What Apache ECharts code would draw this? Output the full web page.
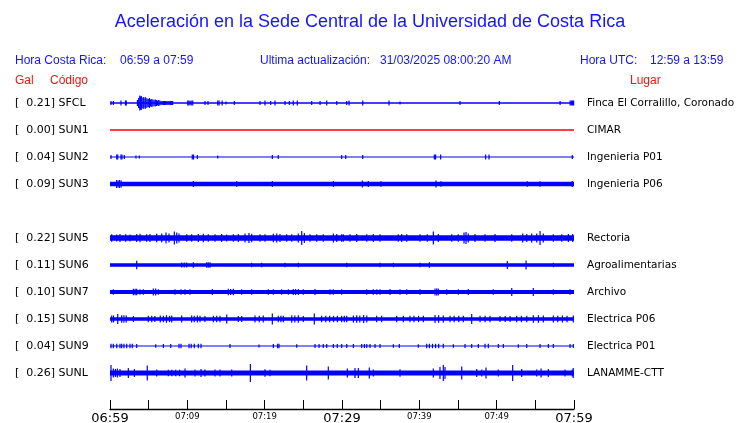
<!DOCTYPE html>
<html><head><meta charset="utf-8">
<script src="https://cdn.jsdelivr.net/npm/echarts@6/dist/echarts.min.js"></script>
<style>html,body{margin:0;padding:0;background:#fff}#c{width:740px;height:423px}</style>
</head><body><div id="c"></div>
<script>
// ---- header texts ----
const titleText = 'Aceleración en la Sede Central de la Universidad de Costa Rica';
const localLabel = 'Hora Costa Rica:';
const localRange = '06:59 a 07:59';
const updatedLabel = 'Ultima actualización:';
const updatedValue = '31/03/2025 08:00:20 AM';
const utcLabel = 'Hora UTC:';
const utcRange = '12:59 a 13:59';
const colGal = 'Gal', colCode = 'Código', colPlace = 'Lugar';

// ---- stations ----
const codes   = ['SFCL','SUN1','SUN2','SUN3','SUN4','SUN5','SUN6','SUN7','SUN8','SUN9','SUNL'];
const peakGal = [0.21, 0.00, 0.04, 0.09, null, 0.22, 0.11, 0.10, 0.15, 0.04, 0.26];
const places  = ['Finca El Corralillo, Coronado','CIMAR','Ingenieria P01','Ingenieria P06','','Rectoria','Agroalimentarias','Archivo','Electrica P06','Electrica P01','LANAMME-CTT'];
const tickLabels = ['06:59','07:09','07:19','07:29','07:39','07:49','07:59']; // every 10 min
// background noise half-amplitude (arbitrary units, 27 units = row spacing)
const baseNoise = [0.7, 0.75, 0.6, 2.2, null, 2.7, 1.8, 1.9, 1.8, 0.6, 2.5];

// spikes: [minute after 06:59, half-amplitude]
const spikesSFCL = [[0.13,2],[0.43,2],[1.42,2.5],[2.0,2.5],[2.1,2.5],
 [3.55,3],[3.7,5],[3.85,7.5],[3.95,6.5],[4.05,7],[4.15,5],[4.3,6],[4.4,4.5],[4.55,6],[4.65,5],[4.8,4.5],[4.95,4],[5.1,5],[5.25,3.5],[5.4,4],[5.55,3.5],[5.7,3],[5.85,3.5],[6.0,3],[6.15,2.5],[6.3,3],[6.45,2.5],[6.6,2],[6.75,2],[6.9,2],[7.05,2],[7.2,2],[7.35,2],[7.5,2],[7.65,2],[7.8,2],[7.95,2],[8.1,2],
 [10.05,2.5],[10.2,2.5],[10.35,2],[10.5,2.5],[10.7,2.5],[12.28,2],[12.67,2],[13.93,2.5],[14.1,2.5],[14.5,2.5],[15.0,1.5],[16.07,2],[19.4,2],[20.04,2.5],[20.78,2],[21.34,2.5],[22.63,2],[23.19,2],[23.7,2.5],[24.22,2.5],[26.08,2],[27.16,2],[28.02,2.5],[29.32,2],[30.61,2],[30.91,2.5],[32.68,2.5],[36.08,2.5],[37.5,1.5],[45.26,2],[50.34,2],[58.2,2],[59.5,2.5],[59.65,2.5],[59.8,2.5],[59.95,2.5]];
const spikesSUN1 = [];
const spikesSUN2 = [[0.13,2],[0.87,2.5],[1.0,2.5],[1.42,2.5],[1.55,2.5],[1.85,2],[3.36,1.5],[3.79,1.5],[10.64,2.5],[10.8,2.5],[11.29,2],[13.93,1.5],[20.99,2],[21.76,2],[29.96,2],[30.48,2],[32.68,2],[41.94,2.5],[42.1,2.5],[42.76,2.5],[48.58,2.5],[49.01,2.5],[59.78,2]];
const spikesSUN3 = [[0.87,4],[1.05,3.5],[1.25,4],[1.45,3.5],[10.77,3],[16.38,2.8],[20.99,3],[28.88,3],[32.63,3.5],[33.4,3],[35.04,2.8],[42.16,3.5],[42.8,2.8],[53.96,2.8],[55.61,2.8],[59.78,3]];
const spikesSUN4 = [];
const spikesSUN5 = [[0.22,3.8],[0.87,3.5],[1.29,4],[2.03,3.8],[2.59,3.5],[3.45,4],[3.88,4.2],[4.74,3.8],[5.17,4],[6.04,4.2],[6.69,4.5],[7.24,5.5],[7.63,4.5],[8.32,6.5],[8.63,5.5],[8.92,4.5],[9.92,3.8],[10.56,3.8],[11.42,4],[12.07,4.2],[12.71,3.8],[13.58,3.8],[14.44,4],[15.09,3.5],[15.95,3.8],[16.59,4],[17.46,4.5],[17.97,5],[18.32,4.2],[19.4,3.8],[20.04,3.8],[21.12,4.2],[21.56,4.5],[21.98,4],[22.85,3.8],[23.5,3.8],[24.35,4.5],[24.79,7],[25.13,5],[25.86,3.8],[26.73,3.8],[27.58,3.8],[28.88,4.5],[29.32,4],[29.96,3.8],
 [30.17,3.8],[31.04,3.8],[31.9,4],[33.2,3.8],[34.05,4],[34.92,3.8],[37.28,3.8],[37.72,4],[38.37,3.8],[40.09,3.8],[41.03,3.8],[41.81,6.5],[42.45,4],[44.19,3.8],[45.04,3.8],[45.78,5.5],[46.04,6],[46.33,4.5],[47.2,4],[48.49,3.8],[49.79,4],[51.95,3.8],[53.37,4.5],[53.89,4],[54.53,4.5],[55.18,4.5],[55.61,7],[56.03,4.5],[57.33,3.8],[58.41,3.8],[59.27,4],[59.83,4]];
const spikesSUN6 = [[3.45,4.2],[9.27,2.5],[9.6,2.5],[9.92,2.5],[10.77,2.8],[12.5,2.8],[12.7,2.8],[12.93,2.8],[18.32,2.3],[19.62,2.3],[22.63,2.3],[24.35,2.3],[30.61,2.3],[34.92,2.3],[36.64,2.3],[40.09,2.3],[41.3,2.8],[51.38,4],[53.8,4.5],[57.33,2.3]];
const spikesSUN7 = [[0.43,2.8],[3.02,3.2],[3.25,3.2],[3.45,3.2],[3.88,2.8],[4.31,2.8],[5.6,3.5],[5.9,3.5],[6.25,2.8],[8.41,2.8],[9.18,2.8],[9.7,2.8],[10.34,2.8],[13.23,3],[15.3,3.2],[15.6,3],[15.95,3.2],[17.03,2.8],[18.32,2.8],[20.47,2.8],[21.12,2.8],[22.2,2.8],[23.06,2.8],[23.7,3],[24.0,3],[24.35,3],[25.0,2.8],[26.51,3],[28.45,2.8],[28.88,2.8],[29.96,2.8],
 [33.2,2.8],[34.05,2.8],[34.5,2.8],[34.92,2.8],[36.21,3],[37.5,2.8],[38.37,2.8],[40.09,2.8],[42.03,3.5],[42.25,3.5],[42.45,3.5],[43.54,2.8],[45.04,2.8],[46.33,3],[49.57,2.8],[51.95,4],[54.74,4],[57.33,2.8],[59.49,2.8]];
const spikesSUN8 = [[0.22,3.5],[0.45,3.5],[1.0,5],[1.51,3.8],[1.8,3.8],[2.1,3.5],[3.02,3],[4.95,3.2],[5.4,3.2],[5.8,3],[6.5,3.5],[6.9,3.2],[7.3,3.8],[7.7,3.2],[7.98,3.5],[9.27,3.5],[10.56,3.5],[10.9,3.2],[11.3,3.5],[11.64,3.2],[12.28,3],[13.36,3.2],[13.8,3.2],[14.22,3.2],[15.09,4.5],[16.59,3],[17.03,3],[18.75,3.5],[19.3,3.2],[19.82,3.5],[20.99,5.5],[21.76,3.2],[22.1,3.2],[22.41,3.2],[23.5,3.8],[23.9,3.5],[24.35,3.8],[25.0,3],[26.42,5.5],[27.37,3.2],[27.9,3.2],[28.4,3.2],[28.9,3.2],[29.4,3.2],[29.96,3.2],
 [30.3,3.2],[30.61,3.2],[31.47,3.5],[31.9,3.8],[32.3,3.5],[32.8,4],[33.2,3.5],[34.48,3.2],[35.13,3.2],[37.07,3.2],[37.93,3.2],[38.79,3.2],[39.3,3.2],[39.9,3.2],[40.52,3.2],[42.03,4],[42.5,3.8],[43.1,3.5],[43.97,3.2],[44.5,3.2],[45.1,3.2],[45.69,3.2],[46.77,5],[47.85,3.2],[48.5,3.2],[49.14,3.2],[50.43,3],[51.1,3],[51.73,3],[52.59,3.2],[53.2,3.2],[53.89,3.2],[54.74,3.8],[55.4,3.8],[56.03,3.5],[57.33,3.5],[57.9,3.2],[58.5,3.5],[59.1,3.2],[59.91,3.5]];
const spikesSUN9 = [[0.13,2.2],[0.43,2.2],[0.87,2.2],[1.29,2.2],[1.51,2.2],[1.8,2.2],[2.16,2.2],[2.59,2.2],[2.88,2.2],[3.45,2],[5.91,1.8],[6.9,2],[7.85,2],[8.92,2.2],[9.18,2.2],[10.22,2.2],[10.5,2.2],[10.9,2.2],[11.42,2.2],[11.77,2.2],[15.52,2],[19.27,1.5],[21.12,2],[21.68,2.2],[21.85,2.2],[24.14,1.8],[26.51,2],[27.03,2],[27.58,2],[28.02,2],[28.88,2],[29.39,2],[29.96,2],[30.61,2],[31.47,2],[32.55,2],[32.9,2],[33.2,2],[33.62,2],[34.27,2],[34.92,2],[36.64,1.8],[37.41,2],[39.87,1.8],[40.95,2.2],[41.3,2.2],[41.7,2.2],[42.1,2.2],[42.5,2.2],[43.1,2.2],[44.4,1.8],[45.91,2],[46.77,2],[47.63,2],[48.49,2.2],[48.92,2.2],[50.21,2],[50.86,2],[52.8,1.8],[53.89,2],[55.61,2],[56.68,2],[57.33,2],[59.49,2],[59.91,2]];
const spikesSUNL = [[0.13,8],[0.43,4.5],[0.7,4],[0.95,4.5],[1.29,4],[2.37,5],[3.15,4],[4.82,7.5],[6.04,3.5],[7.54,3.2],[8.0,3.2],[8.5,3.2],[9.0,3.2],[9.7,4.5],[10.99,3.5],[11.77,4],[12.28,3.5],[13.58,3.5],[14.22,3.5],[15.74,3.5],[18.15,9],[20.04,3.8],[20.69,3.2],[25.43,7.5],[28.23,6.5],
 [30.69,4.5],[31.68,5],[32.11,5],[33.53,5.5],[34.05,3.5],[37.5,3.8],[41.81,4.5],[42.67,6],[43.1,8],[43.32,6],[45.48,6.5],[47.42,4],[48.07,3.5],[48.62,5.5],[50.21,3.5],[52.07,8],[53.24,4],[55.18,3.5],[55.74,4.5],[56.68,4],[58.84,3.5],[59.78,3.5],[59.9,5]];
const traceSpikes = [spikesSFCL, spikesSUN1, spikesSUN2, spikesSUN3, spikesSUN4, spikesSUN5, spikesSUN6, spikesSUN7, spikesSUN8, spikesSUN9, spikesSUNL];
const traceColors = ['#0000ff','#ff0000','#0000ff','#0000ff','#0000ff','#0000ff','#0000ff','#0000ff','#0000ff','#0000ff','#0000ff'];

const ROW_SPAN = 27; // amplitude units per row spacing
const TMAX = 60;

const baseData = [];
const spikeData = [];
codes.forEach((c, i) => {
  if (baseNoise[i] == null) return;
  baseData.push([0, i, baseNoise[i]]);
  traceSpikes[i].forEach(s => spikeData.push([s[0], i, s[1]]));
});

const leftLabels = codes.map((c, i) => peakGal[i] == null ? '' : '[  ' + peakGal[i].toFixed(2) + '] ' + c);

function renderBase(params, api) {
  const row = api.value(1);
  const p0 = api.coord([0, row]);
  const p1 = api.coord([TMAX, row]);
  const unit = api.size([0, 1])[1] / ROW_SPAN;
  const h = api.value(2) * unit;
  return {type: 'rect', shape: {x: p0[0], y: p0[1] - h, width: p1[0] - p0[0], height: 2 * h},
          style: {fill: traceColors[row]}};
}
function renderSpike(params, api) {
  const row = api.value(1);
  const p = api.coord([api.value(0), row]);
  const unit = api.size([0, 1])[1] / ROW_SPAN;
  const a = api.value(2) * unit;
  return {type: 'rect', shape: {x: p[0] - 0.6, y: p[1] - a, width: 1.2, height: 2 * a},
          style: {fill: traceColors[row]}};
}

const blue = '#1414ff', red = '#ff1010';
const hdrFont = '12px "Liberation Sans", Arial, sans-serif';
function txt(x, y, text, fill, font, align) {
  return {type: 'text', x: x, y: y, style: {text: text, fill: fill, font: font || hdrFont, align: align || 'left', verticalAlign: 'middle'}};
}

const chart = echarts.init(document.getElementById('c'), null, {renderer: 'canvas'});
chart.setOption({
  animation: false,
  backgroundColor: '#fff',
  graphic: [
    txt(370, 22, titleText, blue, '18px "Liberation Sans", Arial, sans-serif', 'center'),
    txt(15, 61, localLabel, blue), txt(120, 61, localRange, blue),
    txt(260, 61, updatedLabel, blue), txt(380, 61, updatedValue, blue),
    txt(580, 61, utcLabel, blue), txt(650, 61, utcRange, blue),
    txt(15, 81, colGal, red), txt(50, 81, colCode, red), txt(630, 81, colPlace, red)
  ],
  grid: {left: 110, right: 166, top: 103, height: 270, containLabel: false, outerBoundsMode: 'none'},
  xAxis: {
    type: 'value', min: 0, max: TMAX, interval: 5, offset: 36, position: 'bottom',
    splitLine: {show: false},
    axisLine: {onZero: false, lineStyle: {color: '#000', width: 1.3}},
    axisTick: {inside: true, length: 9, lineStyle: {color: '#000', width: 1}},
    axisLabel: {
      margin: 3, showMinLabel: true, showMaxLabel: true, verticalAlign: 'top',
      formatter: v => {
        if (v % 10 !== 0) return '';
        const s = tickLabels[v / 10];
        return v % 30 === 0 ? '{big|' + s + '}' : '{small|' + s + '}';
      },
      rich: {
        big: {fontFamily: 'DejaVu Sans', fontSize: 13, color: '#000'},
        small: {fontFamily: 'DejaVu Sans', fontSize: 8.5, color: '#000'}
      }
    }
  },
  yAxis: [
    {type: 'value', min: 0, max: codes.length - 1, inverse: true, show: false},
    {type: 'category', data: leftLabels, position: 'left', inverse: true, boundaryGap: false,
     axisLine: {show: false}, axisTick: {show: false}, splitLine: {show: false},
     axisLabel: {interval: 0, align: 'left', margin: 95, fontFamily: 'DejaVu Sans', fontSize: 11, color: '#000'}},
    {type: 'category', data: places, position: 'right', inverse: true, boundaryGap: false,
     axisLine: {show: false}, axisTick: {show: false}, splitLine: {show: false},
     axisLabel: {interval: 0, align: 'left', margin: 13, fontFamily: 'DejaVu Sans', fontSize: 10.5, color: '#000'}}
  ],
  series: [
    {type: 'custom', name: 'base', data: baseData, encode: {x: 0, y: 1}, renderItem: renderBase, clip: false, silent: true},
    {type: 'custom', name: 'spikes', data: spikeData, encode: {x: 0, y: 1}, renderItem: renderSpike, clip: false, silent: true}
  ]
});
</script></body></html>
